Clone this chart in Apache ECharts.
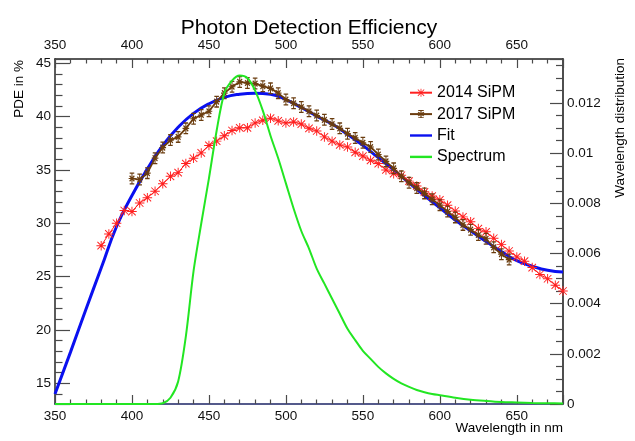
<!DOCTYPE html>
<html><head><meta charset="utf-8">
<script src="https://cdn.jsdelivr.net/npm/echarts@6/dist/echarts.min.js"></script>
<style>html,body{margin:0;padding:0;background:#fff}#c{width:635px;height:441px}</style>
</head><body><div id="c"></div>
<script>
const wl2014 = [380,385,390,395,400,405,410,415,420,425,430,435,440,445,450,455,460,465,470,475,480,485,490,495,500,505,510,515,520,525,530,535,540,545,550,555,560,565,570,575,580,585,590,595,600,605,610,615,620,625,630,635,640,645,650,655,660,665,670,675,680];
const pde2014 = [27.9,29.0,30.0,31.2,31.1,31.9,32.4,33.0,33.7,34.4,34.75,35.6,36.1,36.6,37.3,37.7,38.2,38.7,38.95,38.95,39.4,39.65,39.85,39.6,39.4,39.5,39.3,38.9,38.65,38.1,37.7,37.35,37.15,36.65,36.3,35.9,35.6,35.0,34.65,34.5,33.95,33.5,32.95,32.55,32.2,31.7,31.15,30.6,30.15,29.5,29.2,28.6,28.0,27.4,26.85,26.45,25.85,25.2,24.8,24.2,23.65];
const wl2017 = [400,405,410,415,420,425,430,435,440,445,450,455,460,465,470,475,480,485,490,495,500,505,510,515,520,525,530,535,540,545,550,555,560,565,570,575,580,585,590,595,600,605,610,615,620,625,630,635,640,645];
const pde2017 = [34.2,34.1,34.7,36.1,37.1,37.8,38.1,38.9,39.8,40.15,40.5,41.4,42.2,42.8,43.25,43.15,43.1,42.85,42.65,42.2,41.6,41.25,40.9,40.5,40.1,39.7,39.3,38.9,38.4,38.0,37.55,37.15,36.45,35.8,35.15,34.4,33.8,33.3,32.8,32.25,31.7,31.1,30.55,29.85,29.4,28.9,28.55,27.75,27.1,26.6];
const wlFit = [350,360,370,380,390,400,410,420,430,440,450,460,470,480,490,500,510,520,530,540,550,560,570,580,590,600,610,620,630,640,650,660,670,680];
const pdeFit = [14.0,17.9,21.9,25.8,29.7,32.6,35.1,37.3,39.0,40.3,41.2,41.8,42.1,42.2,42.1,41.6,40.85,40.05,39.3,38.35,37.3,36.15,35.0,33.8,32.6,31.45,30.3,29.3,28.3,27.35,26.5,25.98,25.6,25.43];
const wlSpec = [350,360,370,380,390,400,410,415,420,425,430,435,440,445,450,455,460,465,470,475,480,485,490,495,500,505,510,515,520,525,530,535,540,545,550,555,560,565,570,575,580,585,590,595,600,610,620,630,640,650,660,670,680];
const spec = [0,0,0,0,0,0,0,0,0.00003,0.00025,0.0009,0.0027,0.0053,0.0072,0.0090,0.0109,0.0124,0.0129,0.0131,0.0130,0.0125,0.0117,0.0107,0.0098,0.0088,0.0078,0.0069,0.0062,0.0054,0.0048,0.0042,0.0036,0.0030,0.00255,0.00212,0.0018,0.00148,0.00122,0.0010,0.00082,0.00068,0.00056,0.00047,0.0004,0.00035,0.00025,0.00017,0.00012,0.00008,0.00006,0.00004,0.00003,0.00002];
const seriesNames = ['2014 SiPM','2017 SiPM','Fit','Spectrum'];
const xTickLabels = [350,400,450,500,550,600,650];

const FONT = '"Liberation Sans", Arial, Helvetica, sans-serif';
const pair = (xs, ys) => xs.map((x, i) => [x, ys[i]]);
const STAR = 'path://M0 9L20 9L20 11L0 11Z M9 0L11 0L11 20L9 20Z M2.8 1.4L18.6 17.2L17.2 18.6L1.4 2.8Z M17.2 1.4L18.6 2.8L2.8 18.6L1.4 17.2Z';
const STAR_ERR = 'path://M2 10.8L18 10.8L18 13.2L2 13.2Z M8.8 0L11.2 0L11.2 24L8.8 24Z M4.5 0L15.5 0L15.5 2.6L4.5 2.6Z M4.5 21.4L15.5 21.4L15.5 24L4.5 24Z M5.3 5.3L16.7 16.7L14.7 18.7L3.3 7.3Z M14.7 5.3L16.7 7.3L5.3 18.7L3.3 16.7Z';
const BAR = 'path://M0 0L22 0L22 2.4L0 2.4Z';

const chart = echarts.init(document.getElementById('c'), null, {renderer: 'canvas'});
const tickColor = '#4a4a4a';
const xAxisBase = (pos, lineColor, margin) => ({
  type: 'value', position: pos, min: 350, max: 680, interval: 50,
  axisLine: {show: true, onZero: false, lineStyle: {color: lineColor, width: 1.6}},
  axisTick: {show: true, inside: true, length: 9, lineStyle: {color: tickColor, width: 1.2}},
  minorTick: {show: true, splitNumber: 5, length: 4.5, lineStyle: {color: tickColor, width: 1.2}},
  axisLabel: {show: true, showMaxLabel: false, margin: margin, fontSize: 13.5, color: '#111', fontFamily: FONT,
    formatter: v => (xTickLabels.indexOf(v) >= 0 ? String(v) : '')},
  splitLine: {show: false}, minorSplitLine: {show: false}
});

const option = {
  animation: false,
  backgroundColor: '#fff',
  grid: {left: 55, right: 72, top: 59, bottom: 37, containLabel: false},
  xAxis: [xAxisBase('bottom', '#1c2466', 5), xAxisBase('top', '#222', 7)],
  yAxis: [
    {type: 'value', position: 'left', min: 13.06, max: 45.4, splitNumber: 6,
     axisLine: {show: true, onZero: false, lineStyle: {color: '#333', width: 1.6}},
     axisTick: {show: true, inside: true, length: 15, lineStyle: {color: tickColor, width: 1.2}},
     minorTick: {show: true, splitNumber: 5, length: 7.5, lineStyle: {color: tickColor, width: 1.2}},
     axisLabel: {showMinLabel: false, showMaxLabel: false, margin: 4, fontSize: 13.5, color: '#111', fontFamily: FONT},
     splitLine: {show: false}},
    {type: 'value', position: 'right', min: 0, max: 0.01376, interval: 0.002,
     axisLine: {show: true, onZero: false, lineStyle: {color: '#222', width: 1.6}},
     axisTick: {show: true, inside: true, length: 13, lineStyle: {color: tickColor, width: 1.2}},
     minorTick: {show: true, splitNumber: 4, length: 7, lineStyle: {color: tickColor, width: 1.2}},
     axisLabel: {showMaxLabel: false, margin: 4, fontSize: 13.5, color: '#111', fontFamily: FONT},
     splitLine: {show: false}}
  ],
  legend: {
    orient: 'vertical', left: 404, top: 79.7, itemWidth: 22, itemHeight: 10, itemGap: 5.4,
    selectedMode: false,
    data: [
      {name: seriesNames[0]},
      {name: seriesNames[1]},
      {name: seriesNames[2], icon: BAR},
      {name: seriesNames[3], icon: BAR}
    ],
    textStyle: {fontSize: 16, lineHeight: 16, fontFamily: FONT, color: '#000'}
  },
  graphic: [
    {type: 'text', x: 309, y: 28, style: {text: 'Photon Detection Efficiency', align: 'center', verticalAlign: 'middle', font: '21px ' + FONT, fill: '#000'}},
    {type: 'text', x: 19, y: 60, rotation: Math.PI / 2, style: {text: 'PDE in %', align: 'right', verticalAlign: 'middle', font: '13.5px ' + FONT, fill: '#000'}},
    {type: 'text', x: 620, y: 58, rotation: Math.PI / 2, style: {text: 'Wavelength distribution', align: 'right', verticalAlign: 'middle', font: '13.5px ' + FONT, fill: '#000'}},
    {type: 'text', x: 563, y: 428, style: {text: 'Wavelength in nm', align: 'right', verticalAlign: 'middle', font: '13.5px ' + FONT, fill: '#000'}}
  ],
  series: [
    {name: seriesNames[2], type: 'line', xAxisIndex: 0, yAxisIndex: 0, data: pair(wlFit, pdeFit),
     smooth: true, symbol: 'none', lineStyle: {color: '#0a10f0', width: 3}, itemStyle: {color: '#0a10f0'}, z: 2},
    {name: seriesNames[0], type: 'line', xAxisIndex: 0, yAxisIndex: 0, data: pair(wl2014, pde2014),
     symbol: STAR, symbolSize: 9.5, symbolKeepAspect: true,
     lineStyle: {color: '#ff2020', width: 1}, itemStyle: {color: '#ff2020'}, z: 3},
    {name: seriesNames[1], type: 'line', xAxisIndex: 0, yAxisIndex: 0, data: pair(wl2017, pde2017),
     symbol: STAR_ERR, symbolSize: [10, 12], symbolKeepAspect: true,
     lineStyle: {color: '#6b3d0f', width: 1.8}, itemStyle: {color: '#6b3d0f'}, z: 4},
    {name: seriesNames[3], type: 'line', xAxisIndex: 0, yAxisIndex: 1, data: pair(wlSpec, spec),
     smooth: 0.3, symbol: 'none', lineStyle: {color: '#22e622', width: 2}, itemStyle: {color: '#22e622'}, z: 5}
  ]
};
chart.setOption(option);
</script></body></html>
